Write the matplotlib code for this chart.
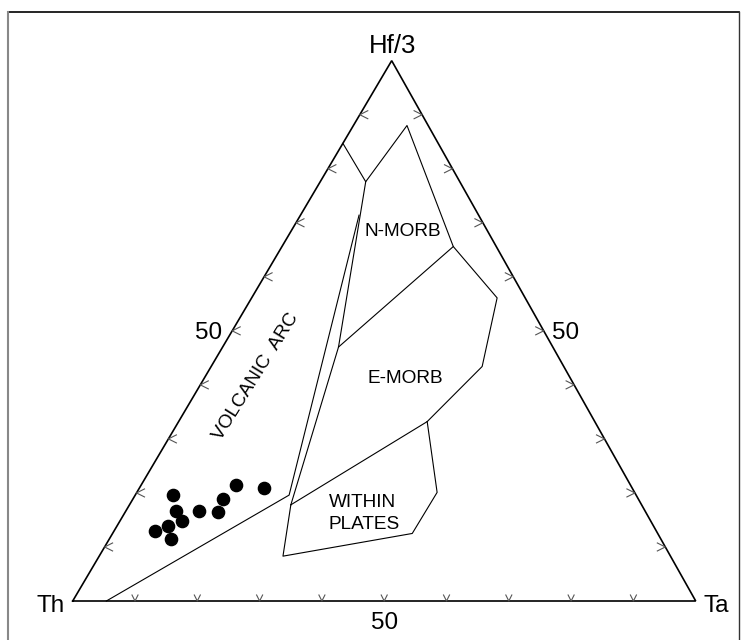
import matplotlib
matplotlib.use('Agg')
import matplotlib.pyplot as plt
from matplotlib.lines import Line2D

plt.rcParams['font.family'] = ['Liberation Sans', 'DejaVu Sans']

# ---- data: compositions as fractions (Ta, Hf/3); Th = 1 - Ta - Hf/3 ----
sample_ta = [0.061, 0.080, 0.100, 0.083, 0.066, 0.099, 0.118, 0.149, 0.145, 0.152, 0.199]
sample_hf = [0.196, 0.167, 0.148, 0.138, 0.130, 0.115, 0.167, 0.165, 0.189, 0.214, 0.210]

# field boundary nodes (Ta, Hf/3)
nodes = {
    'A': (0.054, 0.000), 'B': (0.247, 0.196), 'C': (0.094, 0.714),
    'D': (0.073, 0.776), 'E': (0.000, 0.847), 'F': (0.086, 0.880),
    'G': (0.275, 0.656), 'H': (0.394, 0.561), 'I': (0.435, 0.434),
    'J': (0.399, 0.332), 'K': (0.186, 0.470), 'L': (0.259, 0.178),
    'M': (0.295, 0.083), 'N': (0.481, 0.125), 'O': (0.482, 0.201),
}
boundaries = ['ABC', 'EDFGHIJ', 'DKL', 'GK', 'LJ', 'LMNOJ']

tick_fracs = [0.1, 0.2, 0.3, 0.4, 0.5, 0.6, 0.7, 0.8, 0.9]
corner_labels = ['Th', 'Ta', 'Hf/3']
tick_label = '50'

# ---- geometry of the drawn triangle ----
APEX_X, APEX_Y = 0.512, 0.8673
PX = 623.0  # pixels per data unit


def tern(ta, hf):
    return ta + hf * APEX_X, hf * APEX_Y


fig = plt.figure(figsize=(7.45, 6.40), dpi=100)
ax = fig.add_axes([0, 0, 1, 1])
ax.set_xlim(-0.1167, 1.0791)
ax.set_ylim(-0.0626, 0.9647)
ax.axis('off')

# frame
fig.add_artist(Line2D([8 / 745, 739 / 745], [1 - 12 / 640] * 2, transform=fig.transFigure,
                      color='black', lw=1.2))
fig.add_artist(Line2D([8 / 745, 8 / 745], [1 - 12 / 640, -0.01], transform=fig.transFigure,
                      color='#888888', lw=1.5))
fig.add_artist(Line2D([739 / 745, 739 / 745], [1 - 12 / 640, -0.01], transform=fig.transFigure,
                      color='#333333', lw=1.0))

# triangle
tri = [tern(0, 0), tern(1, 0), tern(0, 1), tern(0, 0)]
ax.plot([p[0] for p in tri], [p[1] for p in tri], color='black', lw=1.2,
        solid_joinstyle='miter')

# ticks
tc = '#555555'
for f in tick_fracs:
    x, y = tern(f, 0)
    ax.plot([x - 3 / PX, x, x + 3 / PX], [y + 6 / PX, y, y + 6 / PX], color=tc, lw=0.8)
    x, y = tern(0, f)
    ax.plot([x + 8 / PX, x, x + 8 / PX], [y + 4 / PX, y, y - 4 / PX], color=tc, lw=0.8)
    x, y = tern(1 - f, f)
    ax.plot([x - 8 / PX, x, x - 8 / PX], [y + 4 / PX, y, y - 4 / PX], color=tc, lw=0.8)

# field boundaries
for b in boundaries:
    pts = [tern(*nodes[c]) for c in b]
    ax.plot([p[0] for p in pts], [p[1] for p in pts], color='black', lw=0.8)

# samples
sx, sy = zip(*[tern(t, h) for t, h in zip(sample_ta, sample_hf)])
ax.plot(sx, sy, 'o', color='black', ms=8.8, mec='black', zorder=5)

# labels
fs_big = 17.5
ax.text(-0.012, -0.0177, corner_labels[0], ha='right', va='baseline', fontsize=fs_big)
ax.text(1.012, -0.0177, corner_labels[1], ha='left', va='baseline', fontsize=fs_big)
ax.text(0.5136, 0.8796, corner_labels[2], ha='center', va='baseline', fontsize=18.5)
ax.text(0.501, -0.045, tick_label, ha='center', va='baseline', fontsize=fs_big)
ax.text(0.218, 0.4212, tick_label, ha='center', va='baseline', fontsize=fs_big)
ax.text(0.7913, 0.4212, tick_label, ha='center', va='baseline', fontsize=fs_big)

fs_f = 13.7
ax.text(0.5302, 0.5859, 'N-MORB', ha='center', va='baseline', fontsize=fs_f)
ax.text(0.5339, 0.3494, 'E-MORB', ha='center', va='baseline', fontsize=fs_f)
ax.text(0.4651, 0.1514, 'WITHIN', ha='center', va='baseline', fontsize=fs_f)
ax.text(0.4684, 0.1156, 'PLATES', ha='center', va='baseline', fontsize=fs_f)
ax.text(0.2942, 0.3596, 'VOLCANIC  ARC', ha='center', va='center', rotation=58,
        rotation_mode='anchor', fontsize=fs_f)

fig.savefig('out.png', dpi=100, facecolor='white')
